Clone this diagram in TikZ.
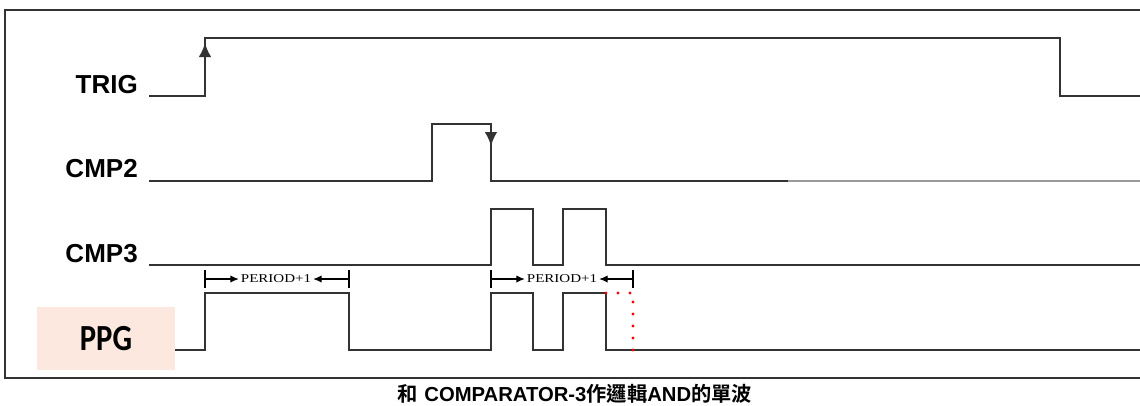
\documentclass[tikz,border=0pt]{standalone}
\usepackage{fontspec}
\newfontfamily\arialf{Liberation Sans}
\newfontfamily\serf{Liberation Serif}
\newfontfamily\calif{Carlito}
\newfontfamily\cjkb{Noto Sans CJK TC Bold}
\usetikzlibrary{positioning,arrows.meta}
\definecolor{wavegray}{HTML}{333333}
\definecolor{lightwave}{HTML}{9A9A9A}
\definecolor{peach}{HTML}{FCE8DE}

\begin{document}
\begin{tikzpicture}[
  x=0.75pt, y=-0.75pt,
  >={Latex[length=10.5pt,width=9.5pt]},
  wave/.style={line width=1.5pt, draw=wavegray},
  frameline/.style={line width=1.6pt, draw=wavegray},
  siglabel/.style={anchor=base east, inner sep=0pt, font=\arialf\bfseries\fontsize{19.5}{19.5}\selectfont},
  pertext/.style={font=\serf\fontsize{9}{9}\selectfont, xscale=1.25, inner sep=1pt, text=black},
  perarrow/.style={->, line width=1pt, draw=black, >={Latex[length=6.5pt,width=5.5pt]}},
  tickline/.style={line width=1.1pt, draw=black},
  dots/.style={red, line width=2.4pt, line cap=round, dash pattern=on 0pt off 9pt}
]
\useasboundingbox (0,0) rectangle (1140,405);

% Outer frame (right side runs off the picture)
\draw[frameline] (1142,10) -- (5,10) -- (5,378) -- (1142,378);

% Signal names
\node[siglabel] (trig) at (138,93) {TRIG};
\node[siglabel] (cmp2) at (138,177) {CMP2};
\node[siglabel] (cmp3) at (138,262) {CMP3};
\node[fill=peach, minimum width=103.5pt, minimum height=47pt, inner sep=0pt,
      font=\calif\bfseries\fontsize{23}{23}\selectfont] (ppg) at (106,338.5) {\scalebox{1}[1.2]{PPG}};

% TRIG
\draw[wave] (149,96) -- (205,96) -- (205,38) -- (1060,38) -- (1060,96) -- (1141,96);
\draw[wave,->] (205,70) -- (205,43);

% CMP2
\draw[wave] (149,181) -- (432,181) -- (432,124) -- (491,124) -- (491,181) -- (788,181);
\draw[wave,->] (491,124) -- (491,146);
\draw[line width=1.5pt, draw=lightwave] (788,181) -- (1141,181);

% CMP3
\draw[wave] (149,265) -- (491,265) -- (491,209) -- (533,209) -- (533,265)
  -- (563,265) -- (563,209) -- (606,209) -- (606,265) -- (1141,265);

% PPG
\draw[wave] (ppg.east |- 0,350) -- (205,350) -- (205,293) -- (349,293) -- (349,350)
  -- (491,350) -- (491,293) -- (533,293) -- (533,350) -- (563,350) -- (563,293)
  -- (606,293) -- (606,350) -- (1141,350);

% PERIOD+1 markers
\coordinate (p1l) at (205,279);
\coordinate (p1r) at (349,279);
\node[pertext] (per1) at (276,279) {PERIOD+1};
\draw[tickline] (205,270) -- (205,288);
\draw[tickline] (349,270) -- (349,288);
\draw[perarrow] (p1l) -- (per1.west);
\draw[perarrow] (p1r) -- (per1.east);

\coordinate (p2l) at (491,279);
\coordinate (p2r) at (633,279);
\node[pertext] (per2) at (562,279) {PERIOD+1};
\draw[tickline] (491,270) -- (491,288);
\draw[tickline] (633,270) -- (633,288);
\draw[perarrow] (p2l) -- (per2.west);
\draw[perarrow] (p2r) -- (per2.east);

% red dotted end
\draw[dots] (606,293) -- (633,293) -- (633,350);

% caption
\node[font=\fontsize{15.2}{15.2}\selectfont, inner sep=0pt] (caption) at (575,394)
  {{\cjkb 和} {\arialf\bfseries COMPARATOR-3}{\cjkb 作邏輯}{\arialf\bfseries AND}{\cjkb 的單波}};
\end{tikzpicture}
\end{document}
